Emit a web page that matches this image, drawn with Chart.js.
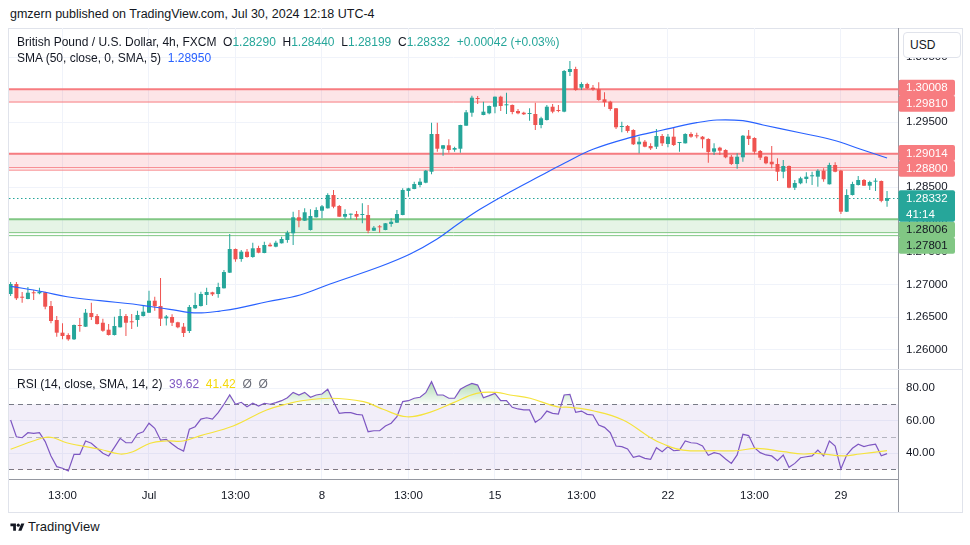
<!DOCTYPE html>
<html>
<head>
<meta charset="utf-8">
<script src="https://cdn.jsdelivr.net/npm/chart.js@4.4.1/dist/chart.umd.min.js"></script>
<style>
  body { margin: 0; background: #fff; font-family: "Liberation Sans", Arial, sans-serif; color: #131722; }
  #wrap { position: relative; width: 970px; height: 545px; overflow: hidden; }
  #pub { position: absolute; left: 10px; top: 7px; font-size: 12.5px; line-height: 14px; }
  #frame { position: absolute; left: 8px; top: 28px; width: 953px; height: 483px; border: 1px solid #e0e3eb; }
  #mainBox { position: absolute; left: 9px; top: 28px; }
  #rsiBox { position: absolute; left: 9px; top: 370px; }
  #sep { position: absolute; left: 9px; top: 369px; width: 953px; height: 1px; background: #e0e3eb; }
  #axisV { position: absolute; left: 898px; top: 479px; width: 1px; height: 33px; background: #9598a1; }
  .legend { position: absolute; left: 17px; font-size: 12px; line-height: 14px; white-space: pre; }
  .up { color: #26a69a; }
  #usd { position: absolute; left: 903px; top: 32px; width: 50px; height: 24px; border: 1px solid #e0e3eb;
         border-radius: 4px; background: #fff; font-size: 12px; line-height: 24px; padding-left: 6px; box-sizing: content-box; }
  #logo { position: absolute; left: 10px; top: 520px; font-size: 13px; line-height: 14px; display: flex; align-items: center; gap: 3px; }
</style>
</head>
<body>
<div id="wrap">
  <div id="pub">gmzern published on TradingView.com, Jul 30, 2024 12:18 UTC-4</div>
  <div id="frame"></div>
  <div id="mainBox"><canvas id="mainChart" width="953" height="342"></canvas></div>
  <div id="rsiBox"><canvas id="rsiChart" width="953" height="142"></canvas></div>
  <div id="sep"></div>
  <div id="axisV"></div>
  <div class="legend" id="leg1" style="top:35px"></div>
  <div class="legend" id="leg2" style="top:51px"></div>
  <div class="legend" id="leg3" style="top:377px"></div>
  <div id="usd">USD</div>
  <div id="logo"><svg width="15" height="11" viewBox="0 0 36 28"><path d="M14 22H7V11H0V4h14v18z" fill="#131722"/><circle cx="20" cy="8" r="4" fill="#131722"/><path d="M28 22h-8l7.5-18h8L28 22z" fill="#131722"/></svg><span>TradingView</span></div>
</div>
<script>
// GBPUSD 4h candles, Jun 25 - Jul 30 2024
const opens = [1.26857,1.27011,1.26815,1.26780,1.26883,1.26868,1.26883,1.26672,1.26457,1.26262,
  1.26226,1.26160,1.26380,1.26354,1.26565,1.26518,1.26415,1.26308,1.26226,1.26345,
  1.26518,1.26431,1.26457,1.26518,1.26569,1.26754,1.26672,1.26483,1.26503,1.26422,
  1.26354,1.26288,1.26637,1.26672,1.26842,1.26883,1.26857,1.26945,1.27185,1.27549,
  1.27395,1.27508,1.27426,1.27565,1.27488,1.27615,1.27585,1.27637,1.27688,1.27791,
  1.28037,1.27985,1.27842,1.28037,1.28138,1.28175,1.28380,1.28211,1.28046,1.28077,
  1.28088,1.28072,1.28072,1.27831,1.27892,1.27842,1.27934,1.27954,1.28072,1.28442,
  1.28472,1.28534,1.28569,1.28738,1.29318,1.29092,1.29145,1.29077,1.29092,1.29446,
  1.29646,1.29868,1.29611,1.29637,1.29738,1.29892,1.29760,1.29765,1.29672,1.29646,
  1.29626,1.29626,1.29457,1.29534,1.29738,1.29688,1.29662,1.30272,1.30318,1.30031,
  1.30088,1.30031,1.30006,1.29852,1.29815,1.29714,1.29426,1.29442,1.29380,1.29160,
  1.29200,1.29134,1.29123,1.29288,1.29165,1.29277,1.29180,1.29175,1.29318,1.29292,
  1.29277,1.29242,1.29046,1.29108,1.29072,1.28969,1.28857,1.28960,1.29292,1.29257,
  1.29057,1.28969,1.28892,1.28857,1.28738,1.28826,1.28492,1.28560,1.28626,1.28668,
  1.28662,1.28754,1.28545,1.28842,1.28754,1.28123,1.28380,1.28534,1.28611,1.28523,
  1.28585,1.28595,1.28290];
const highs = [1.27042,1.27042,1.26888,1.26965,1.26918,1.26954,1.26892,1.26749,1.26518,1.26406,
  1.26252,1.26388,1.26488,1.26626,1.26723,1.26549,1.26477,1.26395,1.26508,1.26626,
  1.26549,1.26549,1.26600,1.26677,1.26908,1.26815,1.27103,1.26534,1.26545,1.26431,
  1.26411,1.26688,1.26877,1.26892,1.26954,1.26892,1.27031,1.27226,1.27780,1.27557,
  1.27534,1.27549,1.27646,1.27600,1.27662,1.27646,1.27677,1.27738,1.27831,1.28123,
  1.28149,1.28175,1.28160,1.28191,1.28226,1.28406,1.28457,1.28226,1.28160,1.28095,
  1.28134,1.28252,1.28226,1.27903,1.27918,1.27950,1.28022,1.28149,1.28483,1.28492,
  1.28585,1.28637,1.28765,1.29492,1.29492,1.29149,1.29237,1.29123,1.29460,1.29688,
  1.29908,1.29903,1.29815,1.29755,1.29895,1.29908,1.29954,1.29772,1.29703,1.29662,
  1.29714,1.29800,1.29585,1.29765,1.29780,1.29765,1.30303,1.30442,1.30354,1.30114,
  1.30108,1.30072,1.30114,1.29960,1.29831,1.29718,1.29508,1.29457,1.29391,1.29277,
  1.29226,1.29175,1.29395,1.29318,1.29318,1.29422,1.29195,1.29329,1.29345,1.29338,
  1.29288,1.29252,1.29175,1.29123,1.29083,1.28995,1.29022,1.29303,1.29380,1.29268,
  1.29072,1.28980,1.29134,1.28945,1.28918,1.28834,1.28611,1.28662,1.28729,1.28738,
  1.28775,1.28791,1.28877,1.28883,1.28765,1.28468,1.28585,1.28672,1.28626,1.28600,
  1.28637,1.28603,1.28440];
const lows = [1.26826,1.26765,1.26723,1.26775,1.26765,1.26852,1.26622,1.26406,1.26200,1.26160,
  1.26138,1.26149,1.26277,1.26349,1.26457,1.26388,1.26277,1.26218,1.26218,1.26342,
  1.26211,1.26318,1.26354,1.26511,1.26565,1.26600,1.26365,1.26372,1.26365,1.26329,
  1.26195,1.26257,1.26626,1.26665,1.26688,1.26826,1.26800,1.26942,1.27180,1.27354,
  1.27354,1.27415,1.27415,1.27483,1.27483,1.27588,1.27575,1.27634,1.27646,1.27611,
  1.27883,1.27980,1.27834,1.28034,1.28022,1.28172,1.28175,1.28045,1.28006,1.28006,
  1.27995,1.27945,1.27791,1.27826,1.27800,1.27837,1.27892,1.27949,1.28068,1.28354,
  1.28468,1.28498,1.28560,1.28698,1.29046,1.28985,1.29031,1.29046,1.29031,1.29446,
  1.29585,1.29780,1.29606,1.29622,1.29637,1.29672,1.29626,1.29622,1.29622,1.29611,
  1.29523,1.29380,1.29406,1.29526,1.29637,1.29652,1.29652,1.30211,1.29985,1.29995,
  1.30011,1.29985,1.29831,1.29738,1.29677,1.29395,1.29345,1.29338,1.29149,1.29022,
  1.29114,1.29072,1.29088,1.29134,1.29114,1.29134,1.29046,1.29172,1.29262,1.29252,
  1.29098,1.28877,1.28995,1.28995,1.28945,1.28842,1.28785,1.28892,1.29149,1.29006,
  1.28918,1.28852,1.28791,1.28595,1.28637,1.28483,1.28457,1.28545,1.28560,1.28534,
  1.28508,1.28585,1.28542,1.28729,1.28088,1.28118,1.28372,1.28526,1.28518,1.28457,
  1.28442,1.28268,1.28199];
const closes = [1.27011,1.26791,1.26800,1.26877,1.26868,1.26892,1.26662,1.26442,1.26262,1.26211,
  1.26160,1.26380,1.26365,1.26569,1.26503,1.26395,1.26292,1.26226,1.26365,1.26518,
  1.26415,1.26422,1.26534,1.26585,1.26754,1.26668,1.26477,1.26511,1.26415,1.26345,
  1.26257,1.26657,1.26688,1.26857,1.26888,1.26852,1.26965,1.27195,1.27549,1.27391,
  1.27508,1.27426,1.27560,1.27492,1.27611,1.27591,1.27646,1.27703,1.27800,1.28037,
  1.27985,1.28114,1.28057,1.28149,1.28206,1.28380,1.28200,1.28046,1.28088,1.28088,
  1.28046,1.28083,1.27831,1.27877,1.27883,1.27945,1.27969,1.28088,1.28457,1.28483,
  1.28549,1.28585,1.28754,1.29318,1.29092,1.29145,1.29072,1.29103,1.29457,1.29652,
  1.29877,1.29857,1.29662,1.29749,1.29892,1.29749,1.29769,1.29657,1.29637,1.29622,
  1.29637,1.29457,1.29560,1.29738,1.29662,1.29672,1.30288,1.30318,1.29995,1.30088,
  1.30022,1.30006,1.29842,1.29806,1.29703,1.29422,1.29437,1.29365,1.29160,1.29200,
  1.29123,1.29098,1.29288,1.29175,1.29277,1.29149,1.29191,1.29318,1.29277,1.29283,
  1.29237,1.29042,1.29098,1.29062,1.28960,1.28857,1.28969,1.29292,1.29242,1.29046,
  1.28954,1.28868,1.28852,1.28738,1.28826,1.28492,1.28565,1.28637,1.28662,1.28677,
  1.28754,1.28622,1.28842,1.28738,1.28123,1.28380,1.28549,1.28611,1.28523,1.28580,
  1.28600,1.28290,1.28332];

// SMA 50: bar index -> value
const smaIdx  = [0, 5.6, 9.8, 15.5, 21.2, 24.2, 27.6, 31.1, 33.7, 36.3, 39.3, 44.5, 50.2, 55.4, 64.1, 69.3, 73.9, 77.6,
  81.4, 86.6, 91.8, 96.1, 101, 107.4, 113.1, 119, 122.5, 127, 130.5, 136.9, 142.6, 147.3, 152];
const smaVals = [1.26975, 1.26892, 1.26815, 1.26754, 1.26703, 1.26665, 1.26622, 1.26572, 1.26569, 1.26595, 1.26637,
  1.26738, 1.26842, 1.27011, 1.27280, 1.27472, 1.27698, 1.27934, 1.28160, 1.28426, 1.28672, 1.28872, 1.29083,
  1.29262, 1.29380, 1.29492, 1.29534, 1.29523, 1.29457, 1.29338, 1.29226, 1.29088, 1.28950];

// RSI 14, one value per bar
const rsi = [60.3,50.0,49.4,52.5,52.1,52.5,47.0,38.2,31.6,30.6,
  28.9,39.2,39.2,47.4,46.0,42.9,39.8,38.2,43.5,49.0,
  46.3,46.3,51.7,53.1,58.3,55.2,48.0,48.4,45.5,42.9,
  41.2,54.6,56.2,60.9,61.7,60.9,64.8,70.0,75.7,70.0,
  71.2,68.5,70.6,68.9,70.6,70.0,71.0,72.2,74.0,77.3,
  75.7,77.3,74.3,75.7,76.3,79.2,71.6,64.4,64.8,64.8,
  63.8,63.4,53.1,53.7,53.7,56.6,58.3,62.3,71.6,72.2,
  73.7,74.3,77.1,83.9,75.7,75.7,73.7,73.7,79.2,81.2,
  82.8,81.8,74.0,75.3,76.7,72.2,72.2,68.1,67.1,66.5,
  66.5,58.9,61.3,65.8,64.4,64.0,75.7,76.1,65.0,65.8,
  63.8,63.4,57.2,55.8,52.5,44.3,43.9,42.5,37.4,38.2,
  36.7,36.1,43.3,40.8,43.9,41.4,41.8,47.4,46.3,46.0,
  44.3,38.6,40.2,39.4,36.3,33.6,38.8,51.5,50.7,43.3,
  40.2,38.8,38.2,35.3,38.8,31.2,33.6,37.1,37.7,38.2,
  41.8,38.2,47.4,44.3,30.2,38.8,42.9,45.4,43.9,44.9,
  45.4,38.3,39.62];

// RSI-based MA
const rsiMaIdx  = [0, 5.7, 7.4, 9.7, 15.5, 19, 21.2, 24.2, 27.1, 29.9, 32.8, 38.6, 44.4, 48.4, 50.2, 55.4, 61.2, 64.6,
  68.7, 72.7, 76.8, 80.8, 84.3, 86.6, 90.1, 94.7, 97, 101, 106.2, 110.9, 113.2, 116.6, 122.4, 125.9, 129.4, 134,
  137.5, 139.8, 144.4, 147.3, 152];
const rsiMaVals = [42.3, 49.4, 49.4, 46.3, 42.3, 39.4, 40.8, 46.0, 47.4, 47.4, 50.5, 56.6, 66.5, 70.6, 72.0, 73.7, 71.6,
  66.9, 62.3, 65.0, 71.0, 76.7, 77.3, 75.7, 73.7, 68.5, 68.1, 66.0, 60.3, 49.6, 45.5, 41.8, 41.4, 41.4, 42.9, 40.8,
  39.4, 39.8, 38.2, 39.4, 41.42];

// support / resistance zones
const zoneTop    = [1.30008, 1.29014, 1.28006];
const zoneBottom = [1.29810, 1.28800, 1.27801];
const zoneType   = ['resistance', 'resistance', 'support'];
const zoneExtra  = [null, 1.28763, 1.27755];

const timeTickIdx = [9, 24, 39, 54, 69, 84, 99, 114, 129, 144];
const timeLabels  = ['13:00', 'Jul', '13:00', '8', '13:00', '15', '13:00', '22', '13:00', '29'];
const priceTicks  = [1.26, 1.265, 1.27, 1.275, 1.28, 1.285, 1.29, 1.295, 1.30, 1.305];
const rsiTicks    = [40, 60, 80];
const rsiUpper = 70, rsiMiddle = 50, rsiLower = 30;
const countdown = '41:14';

const upColor = '#26a69a', downColor = '#ef5350';
const xMin = -0.28, xMax = 153.9;
const last = closes.length - 1;
const lastClose = closes[last];
const idx = closes.map((_, i) => i);
const candleColors = idx.map(i => closes[i] >= opens[i] ? upColor : downColor);
const fontFamily = '"Liberation Sans", Arial, sans-serif';

Chart.defaults.font.family = fontFamily;
Chart.defaults.color = '#131722';

// legend texts
const chg = closes[last] - closes[last - 1];
const pct = chg / closes[last - 1] * 100;
const f5 = v => v.toFixed(5);
document.getElementById('leg1').innerHTML =
  'British Pound / U.S. Dollar, 4h, FXCM  O<span class="up">' + f5(opens[last]) + '</span>  H<span class="up">' +
  f5(highs[last]) + '</span>  L<span class="up">' + f5(lows[last]) + '</span>  C<span class="up">' + f5(closes[last]) +
  '</span>  <span class="up">+' + f5(chg) + ' (+' + pct.toFixed(2) + '%)</span>';
document.getElementById('leg2').innerHTML =
  'SMA (50, close, 0, SMA, 5)  <span style="color:#2962ff">' + f5(smaVals[smaVals.length - 1]) + '</span>';
document.getElementById('leg3').innerHTML =
  'RSI (14, close, SMA, 14, 2)  <span style="color:#7e57c2">' + rsi[last].toFixed(2) +
  '</span>  <span style="color:#f5d90a">' + rsiMaVals[rsiMaVals.length - 1].toFixed(2) +
  '</span>  <span style="color:#6a6d78">\u00d8  \u00d8</span>';

const xAxis = (showLabels) => ({
  type: 'linear', min: xMin, max: xMax, offset: false,
  grid: { color: '#f0f3fa', drawTicks: false, offset: false },
  border: { display: showLabels, color: '#9598a1' },
  ticks: {
    display: showLabels, padding: 10, maxRotation: 0, font: { size: 11.5 },
    callback: v => timeLabels[timeTickIdx.indexOf(v)] ?? ''
  },
  afterBuildTicks: s => { s.ticks = timeTickIdx.map(v => ({ value: v })); },
  afterFit: s => { s.height = showLabels ? 33 : 0; s.paddingLeft = 0; s.paddingRight = 0; }
});

const zonePlugin = {
  id: 'zones',
  beforeDatasetsDraw(chart) {
    const { ctx, chartArea: a, scales: { y } } = chart;
    const hline = (py) => { ctx.beginPath(); ctx.moveTo(a.left, py); ctx.lineTo(a.right, py); ctx.stroke(); };
    ctx.save();
    zoneTop.forEach((top, k) => {
      const y1 = y.getPixelForValue(top), y2 = y.getPixelForValue(zoneBottom[k]);
      const res = zoneType[k] === 'resistance';
      ctx.fillStyle = res ? 'rgba(242,54,69,0.13)' : 'rgba(76,175,80,0.14)';
      ctx.fillRect(a.left, y1, a.right - a.left, y2 - y1);
      ctx.strokeStyle = res ? '#f77c80' : '#81c784';
      ctx.lineWidth = 2; hline(y1);
      ctx.lineWidth = 1; hline(y2);
      if (zoneExtra[k] !== null) hline(y.getPixelForValue(zoneExtra[k]));
    });
    ctx.strokeStyle = upColor;
    ctx.lineWidth = 1;
    ctx.setLineDash([1.5, 2.5]);
    hline(Math.round(y.getPixelForValue(lastClose)) + 0.5);
    ctx.restore();
  },
  afterDraw(chart) {
    const { ctx, chartArea: a, scales: { y } } = chart;
    const rowH = 15.8;
    const items = [];
    zoneTop.forEach((top, k) => {
      items.push({ price: top, type: zoneType[k] });
      items.push({ price: zoneBottom[k], type: zoneType[k] });
    });
    items.forEach(it => { it.c = y.getPixelForValue(it.price); });
    items.sort((p, q) => p.c - q.c);
    const clusters = [];
    items.forEach(it => {
      const cl = clusters[clusters.length - 1];
      if (cl && it.c - cl[cl.length - 1].c < rowH) cl.push(it); else clusters.push([it]);
    });
    const curC = y.getPixelForValue(lastClose);
    const curTop = curC - rowH / 2, curBot = curTop + 2 * rowH;
    const x0 = a.right + 0.5, bw = 56.5;
    ctx.save();
    ctx.font = '11.5px ' + fontFamily;
    ctx.textBaseline = 'middle';
    ctx.textAlign = 'left';
    const box = (top, h, bg) => {
      ctx.fillStyle = bg;
      ctx.beginPath();
      ctx.roundRect(x0, top, bw, h, 2);
      ctx.fill();
    };
    clusters.forEach(cl => {
      const mean = cl.reduce((s, it) => s + it.c, 0) / cl.length;
      const h = cl.length * rowH;
      let top = mean - h / 2;
      if (top < curBot && top + h > curTop) top = mean > curC ? curBot : curTop - h;
      cl.forEach((it, r) => {
        const res = it.type === 'resistance';
        box(top + r * rowH, rowH + 0.3, res ? '#f77c80' : '#81c784');
        ctx.fillStyle = res ? '#ffffff' : '#131722';
        ctx.fillText(f5(it.price), a.right + 8, top + r * rowH + rowH / 2 + 0.5);
      });
    });
    box(curTop, 2 * rowH, upColor);
    ctx.fillStyle = '#ffffff';
    ctx.fillText(f5(lastClose), a.right + 8, curC + 0.5);
    ctx.fillText(countdown, a.right + 8, curC + rowH + 0.5);
    ctx.restore();
  }
};

new Chart(document.getElementById('mainChart'), {
  type: 'bar',
  data: {
    datasets: [
      {
        type: 'line', label: 'SMA 50',
        data: smaIdx.map((x, k) => ({ x, y: smaVals[k] })),
        borderColor: '#2962ff', borderWidth: 1.2, pointRadius: 0, tension: 0.4, order: 0
      },
      {
        label: 'body', data: idx.map(i => ({ x: i, y: [opens[i], closes[i]] })),
        backgroundColor: candleColors, barThickness: 4, grouped: false, minBarLength: 1, inflateAmount: 0, order: 1
      },
      {
        label: 'wick', data: idx.map(i => ({ x: i, y: [lows[i], highs[i]] })),
        backgroundColor: candleColors, barThickness: 1, grouped: false, inflateAmount: 0, order: 2
      }
    ]
  },
  options: {
    responsive: false, animation: false, devicePixelRatio: 1,
    layout: { padding: 0 },
    plugins: { legend: { display: false }, tooltip: { enabled: false } },
    scales: {
      x: xAxis(false),
      y: {
        position: 'right', min: 1.25688, max: 1.30949,
        grid: { color: '#f0f3fa', drawTicks: false },
        border: { color: '#9598a1' },
        ticks: { padding: 8, font: { size: 11.5 }, callback: v => v.toFixed(5) },
        afterBuildTicks: s => { s.ticks = priceTicks.map(v => ({ value: v })); },
        afterFit: s => { s.width = 64; s.paddingTop = 0; s.paddingBottom = 0; }
      }
    }
  },
  plugins: [zonePlugin]
});

const rsiBandPlugin = {
  id: 'rsiBands',
  afterLayout(chart) {
    const y = chart.scales.y;
    const g = chart.ctx.createLinearGradient(0, y.getPixelForValue(86), 0, y.getPixelForValue(rsiUpper));
    g.addColorStop(0, 'rgba(76,175,80,0.5)');
    g.addColorStop(1, 'rgba(76,175,80,0.03)');
    chart.data.datasets[0].fill.above = g;
  },
  beforeDatasetsDraw(chart) {
    const { ctx, chartArea: a, scales: { y } } = chart;
    const yU = y.getPixelForValue(rsiUpper), yM = y.getPixelForValue(rsiMiddle), yL = y.getPixelForValue(rsiLower);
    ctx.save();
    ctx.fillStyle = 'rgba(126,87,194,0.1)';
    ctx.fillRect(a.left, yU, a.right - a.left, yL - yU);
    ctx.lineWidth = 1;
    ctx.setLineDash([5, 4]);
    [[yU, '#787b86'], [yM, 'rgba(120,123,134,0.5)'], [yL, '#787b86']].forEach(([py, col]) => {
      ctx.strokeStyle = col;
      ctx.beginPath();
      ctx.moveTo(a.left, Math.round(py) + 0.5);
      ctx.lineTo(a.right, Math.round(py) + 0.5);
      ctx.stroke();
    });
    ctx.restore();
  }
};

new Chart(document.getElementById('rsiChart'), {
  type: 'line',
  data: {
    datasets: [
      {
        label: 'RSI', data: idx.map(i => ({ x: i, y: rsi[i] })),
        borderColor: '#7e57c2', borderWidth: 1.2, pointRadius: 0, tension: 0,
        fill: { target: { value: rsiUpper }, above: 'rgba(76,175,80,0.25)', below: 'transparent' }, order: 1
      },
      {
        label: 'RSI oversold', data: idx.map(i => ({ x: i, y: rsi[i] })),
        borderWidth: 0, pointRadius: 0, tension: 0,
        fill: { target: { value: rsiLower }, above: 'transparent', below: 'rgba(242,54,69,0.25)' }, order: 2
      },
      {
        label: 'RSI MA', data: rsiMaIdx.map((x, k) => ({ x, y: rsiMaVals[k] })),
        borderColor: '#f5e33d', borderWidth: 1.2, pointRadius: 0, tension: 0.4, fill: false, order: 0
      }
    ]
  },
  options: {
    responsive: false, animation: false, devicePixelRatio: 1,
    layout: { padding: 0 },
    plugins: { legend: { display: false }, tooltip: { enabled: false } },
    scales: {
      x: xAxis(true),
      y: {
        position: 'right', min: 24.0, max: 91.08,
        grid: { color: '#f0f3fa', drawTicks: false },
        border: { color: '#9598a1' },
        ticks: { padding: 8, font: { size: 11.5 }, callback: v => v.toFixed(2) },
        afterBuildTicks: s => { s.ticks = rsiTicks.map(v => ({ value: v })); },
        afterFit: s => { s.width = 64; s.paddingTop = 0; s.paddingBottom = 0; }
      }
    }
  },
  plugins: [rsiBandPlugin]
});
</script>
</body>
</html>
